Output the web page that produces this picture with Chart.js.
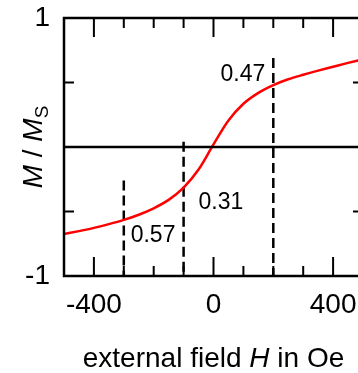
<!DOCTYPE html>
<html lang="en">
<head>
    <meta charset="UTF-8">
    <title>M / Ms vs external field</title>
    <script src="https://cdn.jsdelivr.net/npm/chart.js@4.4.0/dist/chart.umd.min.js"></script>
    <style>
        html, body { margin: 0; padding: 0; background: #fff; overflow: hidden; }
        canvas { display: block; }
    </style>
</head>
<body>

<canvas id="graph" width="400" height="373"></canvas>

<script>
    // Curva de magnetización
    const fieldH = [-500, -450, -400, -350, -300, -250, -200, -150, -100, -50, 0, 50, 100, 150, 200, 250, 300, 350, 400, 450, 500];
    const magM   = [-0.675, -0.652, -0.627, -0.598, -0.565, -0.525, -0.475, -0.41, -0.315, -0.175, 0.02, 0.205, 0.335, 0.42, 0.48, 0.525, 0.56, 0.592, 0.622, 0.652, 0.68];

    // Líneas verticales discontinuas y sus etiquetas
    const markH     = [-300, -100, 200];
    const markTop   = [-0.26, 0.04, 0.69];
    const markText  = ['0.57', '0.31', '0.47'];
    const markLabH  = [-277, -50, 173];
    const markLabM  = [-0.69, -0.434, 0.558];
    const markAlign = ['left', 'left', 'right'];

    const xTicksLabeled = [-400, 0, 400];
    const yTicksLabeled = [-1, 1];

    const FONT = '"Liberation Sans", Arial, sans-serif';

    const datasets = [{
        data: fieldH.map((h, i) => ({ x: h, y: magM[i] })),
        borderColor: '#ff0000',
        borderWidth: 2.5,
        pointRadius: 0,
        cubicInterpolationMode: 'monotone',
        fill: false
    }];
    markH.forEach((h, i) => {
        datasets.push({
            data: [{ x: h, y: markTop[i] }, { x: h, y: -1 }],
            borderColor: '#000',
            borderWidth: 2.5,
            borderDash: [10, 5],
            pointRadius: 0,
            fill: false
        });
    });

    // Marco, ticks hacia dentro, línea cero, etiquetas y títulos
    const framePlugin = {
        id: 'frame',
        afterDatasetsDraw(chart) {
            const c = chart.ctx;
            const a = chart.chartArea;
            const xs = chart.scales.x, ys = chart.scales.y;
            c.save();
            c.strokeStyle = '#000';
            c.lineWidth = 2.5;
            c.beginPath();
            c.rect(a.left, a.top, a.right - a.left, a.bottom - a.top);
            c.stroke();

            // línea y = 0
            const y0 = ys.getPixelForValue(0);
            c.beginPath();
            c.moveTo(a.left, y0);
            c.lineTo(a.right, y0);
            c.stroke();

            // ticks del eje x
            c.lineWidth = 2;
            for (let h = -500; h <= 500; h += 100) {
                const px = xs.getPixelForValue(h);
                const len = (h % 400 === 0) ? 19 : 10;
                c.beginPath();
                c.moveTo(px, a.bottom); c.lineTo(px, a.bottom - len);
                c.moveTo(px, a.top); c.lineTo(px, a.top + len);
                c.stroke();
            }
            // ticks del eje y
            [-0.5, 0.5].forEach(m => {
                const py = ys.getPixelForValue(m);
                c.beginPath();
                c.moveTo(a.left, py); c.lineTo(a.left + 10, py);
                c.moveTo(a.right, py); c.lineTo(a.right - 10, py);
                c.stroke();
            });

            // etiquetas de las líneas discontinuas
            c.fillStyle = '#000';
            c.font = '23px ' + FONT;
            c.textBaseline = 'middle';
            markText.forEach((t, i) => {
                c.textAlign = markAlign[i];
                c.fillText(t, xs.getPixelForValue(markLabH[i]), ys.getPixelForValue(markLabM[i]));
            });

            // título eje x: "external field H in Oe"
            const parts = [['external field ', ''], ['H', 'italic '], [' in Oe', '']];
            c.textAlign = 'left';
            c.textBaseline = 'alphabetic';
            let total = 0;
            parts.forEach(p => { c.font = p[1] + '28px ' + FONT; total += c.measureText(p[0]).width; });
            let x = (a.left + a.right) / 2 - total / 2;
            parts.forEach(p => {
                c.font = p[1] + '28px ' + FONT;
                c.fillText(p[0], x, 367);
                x += c.measureText(p[0]).width;
            });

            // título eje y: "M / M_S"
            c.translate(42, (a.top + a.bottom) / 2);
            c.rotate(-Math.PI / 2);
            const yparts = [['M', 'italic 28px ', 0], [' / ', '28px ', 0], ['M', 'italic 28px ', 0], ['S', '19px ', 6]];
            total = 0;
            yparts.forEach(p => { c.font = p[1] + FONT; total += c.measureText(p[0]).width; });
            x = -total / 2;
            yparts.forEach(p => {
                c.font = p[1] + FONT;
                c.fillText(p[0], x, p[2]);
                x += c.measureText(p[0]).width;
            });
            c.restore();
        }
    };

    new Chart(document.getElementById('graph').getContext('2d'), {
        type: 'line',
        data: { datasets: datasets },
        options: {
            responsive: false,
            animation: false,
            layout: { padding: { top: 18, right: 37, left: 0, bottom: 0 } },
            plugins: { legend: { display: false }, tooltip: { enabled: false } },
            scales: {
                x: {
                    type: 'linear',
                    min: -500,
                    max: 500,
                    grid: { display: false, drawTicks: false },
                    border: { display: false },
                    ticks: {
                        stepSize: 100,
                        autoSkip: false,
                        maxRotation: 0,
                        padding: 12,
                        color: '#000',
                        font: { family: FONT, size: 28 },
                        callback: v => xTicksLabeled.includes(v) ? String(v) : ''
                    },
                    afterFit: s => { s.height = 97; s.paddingLeft = 0; s.paddingRight = 0; }
                },
                y: {
                    min: -1,
                    max: 1,
                    grid: { display: false, drawTicks: false },
                    border: { display: false },
                    ticks: {
                        stepSize: 0.5,
                        autoSkip: false,
                        padding: 14,
                        color: '#000',
                        font: { family: FONT, size: 28 },
                        callback: v => yTicksLabeled.includes(v) ? String(v) : ''
                    },
                    afterFit: s => { s.width = 64; s.paddingTop = 0; s.paddingBottom = 0; }
                }
            }
        },
        plugins: [framePlugin]
    });
</script>

</body>
</html>
